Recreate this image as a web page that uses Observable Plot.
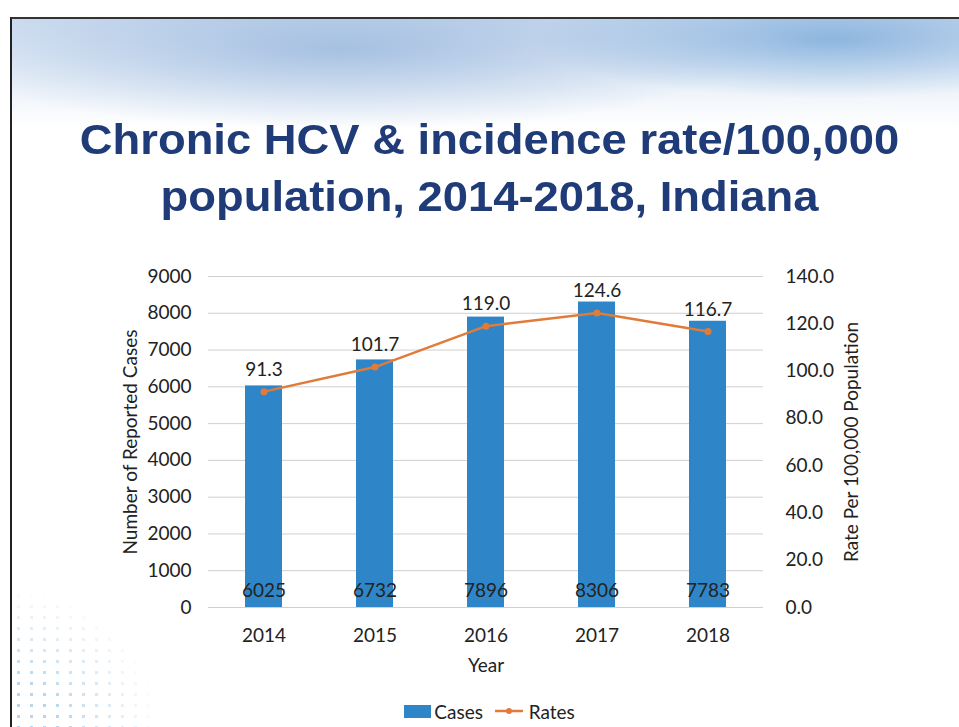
<!DOCTYPE html>
<html>
<head>
<meta charset="utf-8">
<script src="https://cdn.jsdelivr.net/npm/d3@7"></script>
<script src="https://cdn.jsdelivr.net/npm/@observablehq/plot@0.6"></script>
<style>
  html, body { margin: 0; padding: 0; }
  body { width: 959px; height: 727px; position: relative; overflow: hidden; background: #fff; font-family: Lato, "Open Sans", sans-serif; }
  #frame { position: absolute; left: 10px; top: 17px; width: 960px; height: 720px; border-left: 2px solid #222; border-top: 2px solid #333; }
  #wave { position: absolute; left: 12px; top: 19px; width: 947px; height: 110px;
    background:
      radial-gradient(ellipse 420px 80px at 330px 30px, rgba(120,160,210,0.55), rgba(150,185,225,0.0) 100%),
      radial-gradient(ellipse 300px 60px at 820px 20px, rgba(90,150,210,0.6), rgba(120,170,220,0) 100%),
      linear-gradient(180deg, rgba(190,210,235,0.7), rgba(255,255,255,0) 100%);
  }
  #dots { position: absolute; left: 12px; top: 590px; width: 150px; height: 137px;
    background-image: radial-gradient(circle, rgba(120,180,220,0.55) 1.6px, transparent 2px);
    background-size: 13px 11px;
    -webkit-mask-image: radial-gradient(ellipse 150px 140px at 0 137px, #000 30%, transparent 100%);
    mask-image: radial-gradient(ellipse 150px 140px at 0 137px, #000 30%, transparent 100%);
  }
  #title { position: absolute; left: 10px; width: 959px; top: 111px; text-align: center; color: #1f3b78;
    font-family: "Liberation Sans", Arial, sans-serif; font-weight: bold; font-size: 43px; line-height: 57px;
    transform: scaleX(1.055); transform-origin: 479px 0; }
  #chart { position: absolute; left: 0; top: 250px; }
  #legend { position: absolute; top: 699px; left: 10px; width: 959px; text-align: center; font-size: 19px; color: #222; }
  #legend span { display: inline-flex; align-items: center; margin: 0 3px; }
  .sw { display: inline-block; width: 27px; height: 13px; background: #2e86c8; margin-right: 3px; }
</style>
</head>
<body>
<div id="frame"></div>
<div id="wave"></div>
<div id="dots"></div>
<div id="title">Chronic HCV &amp; incidence rate/100,000<br>population, 2014-2018, Indiana</div>
<div id="chart"></div>
<div id="legend">
  <span><i class="sw"></i>Cases</span>
  <span><svg width="30" height="14"><line x1="1" y1="7" x2="29" y2="7" stroke="#e07b39" stroke-width="2.5"/><circle cx="15" cy="7" r="3" fill="#e07b39"/></svg>&nbsp;Rates</span>
</div>
<script>
const years = ["2014", "2015", "2016", "2017", "2018"];
const cases = [6025, 6732, 7896, 8306, 7783];
const rates = [91.3, 101.7, 119.0, 124.6, 116.7];
const caseTicks = [0, 1000, 2000, 3000, 4000, 5000, 6000, 7000, 8000, 9000];
const rateTicks = [0, 20, 40, 60, 80, 100, 120, 140];

const caseMax = 9000, rateMax = 140;
const toCase = r => r * caseMax / rateMax;
const data = years.map((y, i) => ({year: y, cases: cases[i], rate: rates[i], rateY: toCase(rates[i])}));

const blue = "#2e86c8", orange = "#e07b39", ink = "#222";
const fs = 19;

const chart = Plot.plot({
  width: 959,
  height: 440,
  marginLeft: 208,
  marginRight: 196,
  marginTop: 26,
  marginBottom: 83,
  style: {fontFamily: "Lato, 'Open Sans', sans-serif", fontSize: fs + "px", color: ink, background: "transparent", overflow: "visible"},
  x: {type: "band", domain: years, paddingInner: 0.667, paddingOuter: 0.333, label: null},
  y: {domain: [0, caseMax], label: null},
  marks: [
    Plot.gridY(caseTicks, {stroke: "#cfcfcf", strokeOpacity: 1, strokeWidth: 1}),
    Plot.barY(data, {x: "year", y: "cases", fill: blue}),
    Plot.line(data, {x: "year", y: "rateY", stroke: orange, strokeWidth: 2.5}),
    Plot.dot(data, {x: "year", y: "rateY", fill: orange, r: 3.5}),
    Plot.text(data, {x: "year", y: "rateY", text: d => d.rate.toFixed(1), dy: -22, fill: ink, fontSize: fs}),
    Plot.text(data, {x: "year", y: 0, text: d => String(d.cases), dy: -17, fill: ink, fontSize: fs}),
    Plot.axisY(caseTicks, {anchor: "left", tickSize: 0, tickPadding: 17, fontSize: fs, tickFormat: d => String(d), label: null}),
    Plot.axisY(rateTicks.map(toCase), {anchor: "right", tickSize: 0, tickPadding: 22, textAnchor: "start", fontSize: fs, tickFormat: d => (d * rateMax / caseMax).toFixed(1), label: null}),
    Plot.axisX({tickSize: 0, tickPadding: 21, fontSize: fs, label: null}),
    Plot.text(["Number of Reported Cases"], {frameAnchor: "left", textAnchor: "middle", dx: -78, rotate: -90, fontSize: fs, fill: ink}),
    Plot.text(["Rate Per 100,000 Population"], {frameAnchor: "right", textAnchor: "middle", dx: 88, rotate: -90, fontSize: fs, fill: ink}),
    Plot.text(["Year"], {frameAnchor: "bottom", dy: 64, fontSize: fs, fill: ink})
  ]
});
document.getElementById("chart").appendChild(chart);
</script>
</body>
</html>
